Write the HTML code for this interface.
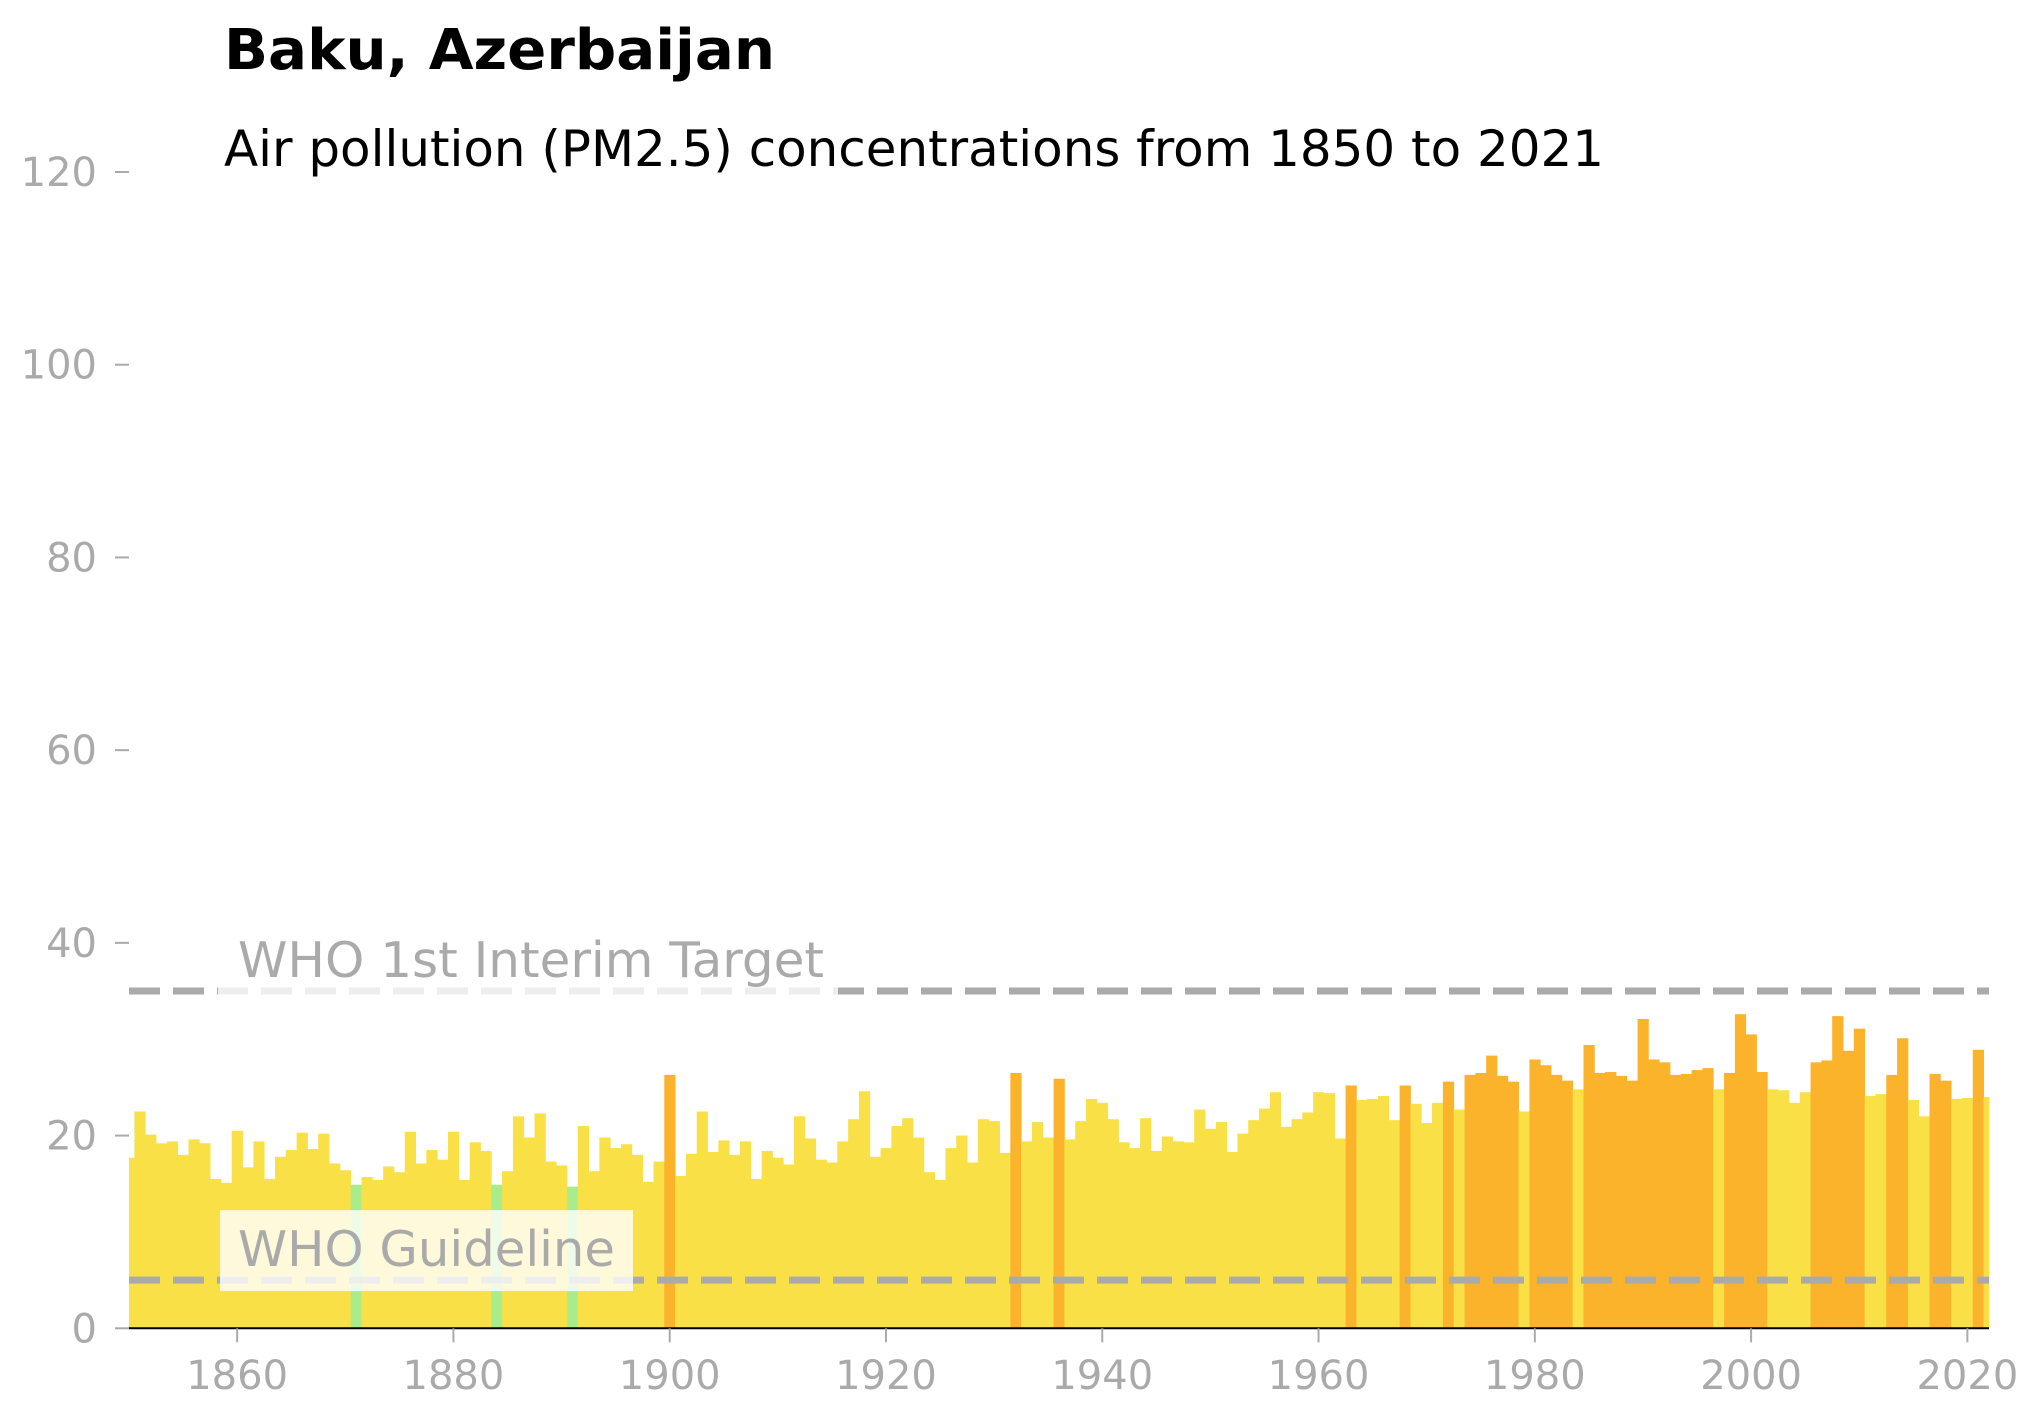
<!DOCTYPE html>
<html><head><meta charset="utf-8"><style>
html,body{margin:0;padding:0;background:#fff;}
svg{display:block;font-family:"DejaVu Sans","Liberation Sans",sans-serif;}
</style></head><body>
<svg id="chart" width="2043" height="1415" viewBox="0 0 2043 1415" xmlns="http://www.w3.org/2000/svg">
<text x="224" y="69" font-size="56" font-weight="bold" fill="#000" textLength="551" lengthAdjust="spacingAndGlyphs">Baku, Azerbaijan</text>
<text x="224" y="166" font-size="50" fill="#000" textLength="1380" lengthAdjust="spacingAndGlyphs">Air pollution (PM2.5) concentrations from 1850 to 2021</text>
<g id="bars"></g>
<g id="lines"></g>
<g id="axes"></g>
</svg>
<script>
const startYear = 1850;
const values = [
17.7,22.5,20.1,19.2,19.4,18.0,19.6,19.2,15.5,15.1,
20.5,16.7,19.4,15.5,17.8,18.5,20.3,18.6,20.2,17.1,
16.4,14.9,15.7,15.4,16.8,16.2,20.4,17.1,18.5,17.5,
20.4,15.4,19.3,18.4,14.9,16.3,22.0,19.8,22.3,17.3,
16.9,14.7,21.0,16.3,19.8,18.7,19.1,18.0,15.2,17.3,
26.3,15.8,18.1,22.5,18.3,19.5,18.0,19.4,15.5,18.4,
17.7,17.0,22.0,19.7,17.5,17.2,19.4,21.7,24.6,17.8,
18.7,21.0,21.8,19.8,16.2,15.4,18.7,20.0,17.2,21.7,
21.5,18.2,26.5,19.4,21.4,19.8,25.9,19.6,21.5,23.8,
23.4,21.7,19.3,18.7,21.8,18.4,19.9,19.4,19.3,22.7,
20.7,21.4,18.3,20.2,21.6,22.8,24.5,20.9,21.7,22.4,
24.5,24.4,19.7,25.2,23.7,23.8,24.1,21.6,25.2,23.3,
21.3,23.4,25.6,22.7,26.3,26.5,28.3,26.2,25.6,22.5,
27.9,27.3,26.3,25.7,24.8,29.4,26.5,26.6,26.2,25.7,
32.1,27.9,27.6,26.3,26.4,26.8,27.0,24.8,26.5,32.6,
30.5,26.6,24.8,24.7,23.4,24.5,27.6,27.8,32.4,28.8,
31.1,24.1,24.3,26.3,30.1,23.7,22.0,26.4,25.7,23.8,
23.9,28.9,24.0];
const yTicks = [0,20,40,60,80,100,120];
const xTicks = [1860,1880,1900,1920,1940,1960,1980,2000,2020];
const refValues = [35,5];
const refLabels = ["WHO 1st Interim Target","WHO Guideline"];

const NS="http://www.w3.org/2000/svg";
const X0=129, X1=1989, xMin=1850, xMax=2022;
const Y0=1328.3, Y1=172, yMax=120;
function xs(yr){return X0+(yr-xMin)*(X1-X0)/(xMax-xMin);}
function ys(v){return Y0-v*(Y0-Y1)/yMax;}
function mk(tag,attrs,parent){const e=document.createElementNS(NS,tag);for(const k in attrs)e.setAttribute(k,attrs[k]);parent.appendChild(e);return e;}

const gb=document.getElementById('bars');
const bw=(X1-X0)/(xMax-xMin);
values.forEach((v,i)=>{
  const yr=startYear+i;
  let l=xs(yr)-bw/2, r=xs(yr)+bw/2;
  l=Math.max(l,X0); r=Math.min(r,X1);
  const col = v>=25 ? '#fbb32c' : (v<15 ? '#a8ec8e' : '#f8e046');
  const rc=mk('rect',{x:l,y:ys(v),width:r-l+0.4,height:Y0-ys(v),fill:col},gb);
  
  
});

const gl=document.getElementById('lines');
const boxes=[{x:218,w:620,top:-56,bot:25,tx:238,tw:586},{x:220,w:413,top:-56,bot:25,tx:238,tw:377}];
refValues.forEach((v,i)=>{
  const ln=mk('line',{x1:X0,x2:X1,y1:ys(v),y2:ys(v),stroke:'#aaaaaa','stroke-width':7,'stroke-dasharray':'31 13'},gl);
  
  
  const b=boxes[i];
  const base=ys(v)-14;
  const bx=mk('rect',{x:b.x,y:base+b.top,width:b.w,height:b.bot-b.top,fill:'#ffffff','fill-opacity':0.8},gl);
  
  
  const t=mk('text',{x:b.tx,y:base,'font-size':49,fill:'#aaaaaa',textLength:b.tw,lengthAdjust:'spacingAndGlyphs'},gl);
  t.textContent=refLabels[i];
  
  
});

const ga=document.getElementById('axes');
const ax=mk('line',{x1:X0,x2:X1,y1:Y0,y2:Y0,stroke:'#000','stroke-width':2},ga);


yTicks.forEach(v=>{
  const tk=mk('line',{x1:115,x2:129,y1:ys(v),y2:ys(v),stroke:'#aaaaaa','stroke-width':2},ga);
  
  
  const t=mk('text',{x:97,y:ys(v)+14,'font-size':40,fill:'#aaaaaa','text-anchor':'end'},ga);
  t.textContent=v;
  
  
});
xTicks.forEach(yr=>{
  const tk=mk('line',{x1:xs(yr),x2:xs(yr),y1:Y0,y2:Y0+14,stroke:'#aaaaaa','stroke-width':2},ga);
  
  
  const t=mk('text',{x:xs(yr),y:1389,'font-size':40,fill:'#aaaaaa','text-anchor':'middle'},ga);
  t.textContent=yr;
  
  
});
</script>
</body></html>
